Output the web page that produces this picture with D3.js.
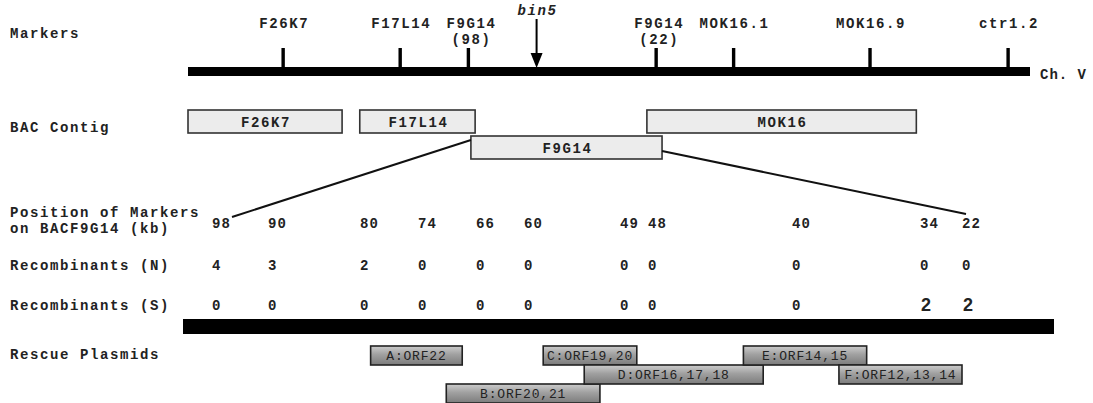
<!DOCTYPE html>
<html>
<head>
<meta charset="utf-8">
<script src="https://cdn.jsdelivr.net/npm/d3@7"></script>
<style>
  body { margin: 0; background: #fff; }
  svg { display: block; }
  .mono { font-family: "Courier New", "Liberation Mono", monospace; font-weight: bold; fill: #222; font-size: 14px; letter-spacing: 1.6px; }
</style>
</head>
<body>
<figure id="map" style="margin:0"></figure>
<script>
// chromosome V markers (map units along the drawn bar, 0-100)
const markerNames = ["F26K7", "F17L14", "F9G14", "F9G14", "MOK16.1", "MOK16.9", "ctr1.2"];
const markerSub = ["", "", "(98)", "(22)", "", "", ""];
const markerPos = [11.3, 25.2, 33.3, 55.6, 64.8, 81.0, 97.4];
const bin5Pos = 41.4;

// BAC contig
const bacNames = ["F26K7", "F17L14", "F9G14", "MOK16"];
const bacStart = [0, 20.4, 33.6, 54.5];
const bacEnd = [18.3, 34.1, 56.3, 86.5];
const bacRow = [0, 0, 1, 0];

// markers on BAC F9G14 (kb) and recombinant counts
const kbPositions = [98, 90, 80, 74, 66, 60, 49, 48, 40, 34, 22];
const recombN = [4, 3, 2, 0, 0, 0, 0, 0, 0, 0, 0];
const recombS = [0, 0, 0, 0, 0, 0, 0, 0, 0, 2, 2];

// rescue plasmids, extents in kb on F9G14
const plasmidNames = ["A:ORF22", "B:ORF20,21", "C:ORF19,20", "D:ORF16,17,18", "E:ORF14,15", "F:ORF12,13,14"];
const plasmidStart = [78.9, 70.1, 57.8, 53.1, 42.7, 37.8];
const plasmidEnd = [67.9, 51.3, 48.4, 41.6, 36.5, 22];
const plasmidRow = [0, 2, 0, 1, 0, 1];

const width = 1093, height = 403;
// column layout for the kb rows (not evenly spaced in the figure)
const colX = [212, 268, 360, 418, 476, 524, 620, 648, 792, 920, 962];

const svg = d3.select('#map')
  .append('svg')
  .attr('width', width)
  .attr('height', height);

const chrX = d3.scaleLinear().domain([0, 100]).range([188, 1030]);
const kbX = d3.scaleLinear().domain(kbPositions).range(colX);

// gradient for the plasmid boxes
const grad = svg.append('defs').append('linearGradient')
  .attr('id', 'plas').attr('x1', 0).attr('y1', 0).attr('x2', 0).attr('y2', 1);
grad.append('stop').attr('offset', '0%').attr('stop-color', '#cdcdcd');
grad.append('stop').attr('offset', '45%').attr('stop-color', '#a0a0a0');
grad.append('stop').attr('offset', '100%').attr('stop-color', '#7c7c7c');

// row labels
const rowLabels = [
  { t: ["Markers"], y: 38 },
  { t: ["BAC Contig"], y: 132 },
  { t: ["Position of Markers", "on BACF9G14 (kb)"], y: 217 },
  { t: ["Recombinants (N)"], y: 270 },
  { t: ["Recombinants (S)"], y: 310 },
  { t: ["Rescue Plasmids"], y: 359 }
];
rowLabels.forEach(r => {
  const txt = svg.append('text').attr('class', 'mono').attr('x', 10).attr('y', r.y);
  r.t.forEach((s, i) => txt.append('tspan').attr('x', 10).attr('dy', i ? 16 : 0).text(s));
});

// chromosome bar
const chrY = 67;
svg.append('rect')
  .attr('x', chrX(0)).attr('y', chrY)
  .attr('width', chrX(100) - chrX(0)).attr('height', 9)
  .attr('fill', '#000');

svg.append('text').attr('class', 'mono')
  .attr('x', chrX(100) + 10).attr('y', 79)
  .style('letter-spacing', '1px')
  .text('Ch. V');

const mk = svg.selectAll('g.marker')
  .data(markerNames.map((n, i) => ({ name: n, sub: markerSub[i], pos: markerPos[i] })))
  .enter().append('g').attr('class', 'marker');

mk.append('rect')
  .attr('x', d => chrX(d.pos) - 1.7).attr('y', 48)
  .attr('width', 3.4).attr('height', chrY - 48)
  .attr('fill', '#000');

mk.append('text').attr('class', 'mono')
  .attr('x', d => chrX(d.pos) + (d.sub ? 3 : 1)).attr('y', 28)
  .attr('text-anchor', 'middle')
  .text(d => d.name);

mk.append('text').attr('class', 'mono')
  .attr('x', d => chrX(d.pos) + 3).attr('y', 44)
  .attr('text-anchor', 'middle')
  .text(d => d.sub);

// bin5 arrow
const bx = chrX(bin5Pos);
svg.append('text').attr('class', 'mono')
  .attr('x', bx + 1).attr('y', 15)
  .attr('text-anchor', 'middle')
  .style('font-style', 'italic')
  .text('bin5');
svg.append('line')
  .attr('x1', bx).attr('x2', bx).attr('y1', 19).attr('y2', 56)
  .attr('stroke', '#000').attr('stroke-width', 2);
svg.append('path')
  .attr('d', `M${bx - 6},53 L${bx + 6},53 L${bx},${chrY + 1} Z`)
  .attr('fill', '#000');

// BAC contig boxes
const bacTop = [110, 136];
const bacH = 23;
const bac = svg.selectAll('g.bac')
  .data(bacNames.map((n, i) => ({ name: n, s: bacStart[i], e: bacEnd[i], row: bacRow[i] })))
  .enter().append('g').attr('class', 'bac');

bac.append('rect')
  .attr('x', d => chrX(d.s)).attr('y', d => bacTop[d.row])
  .attr('width', d => chrX(d.e) - chrX(d.s)).attr('height', bacH)
  .attr('fill', '#ececec').attr('stroke', '#333').attr('stroke-width', 1.6);

bac.append('text').attr('class', 'mono')
  .attr('x', d => (chrX(d.s) + chrX(d.e)) / 2 + 1).attr('y', d => bacTop[d.row] + 16.5)
  .attr('text-anchor', 'middle')
  .text(d => d.name);

// expansion lines from F9G14 to the kb row
const f9 = bacNames.indexOf('F9G14');
svg.append('line')
  .attr('x1', chrX(bacStart[f9])).attr('y1', bacTop[1] + 4)
  .attr('x2', kbX(kbPositions[0]) + 20).attr('y2', 217)
  .attr('stroke', '#111').attr('stroke-width', 2);
svg.append('line')
  .attr('x1', chrX(bacEnd[f9])).attr('y1', bacTop[1] + 15)
  .attr('x2', kbX(kbPositions[kbPositions.length - 1]) + 4).attr('y2', 214)
  .attr('stroke', '#111').attr('stroke-width', 2);

// kb positions and recombinant rows
const rows = [
  { vals: kbPositions, y: 228 },
  { vals: recombN, y: 270 },
  { vals: recombS, y: 310 }
];
rows.forEach((r, ri) => {
  svg.selectAll(null)
    .data(r.vals.map((v, i) => ({ v, kb: kbPositions[i] })))
    .enter().append('text')
    .attr('class', 'mono')
    .attr('x', d => kbX(d.kb))
    .attr('y', r.y)
    .style('letter-spacing', '1.2px')
    .each(function (d) {
      if (ri === 2 && d.v > 0) {
        d3.select(this)
          .style('font-family', '"Liberation Sans", Arial, sans-serif')
          .style('font-size', '18px')
          .attr('y', r.y + 1)
          .attr('dx', 1);
      }
    })
    .text(d => d.v);
});

// thick black bar (F9G14 region)
svg.append('rect')
  .attr('x', 183).attr('y', 319)
  .attr('width', 1054 - 183).attr('height', 15)
  .attr('fill', '#000');

// rescue plasmids
const plTop = [346, 365, 384];
const plH = 19;
const pl = svg.selectAll('g.plasmid')
  .data(plasmidNames.map((n, i) => ({ name: n, s: plasmidStart[i], e: plasmidEnd[i], row: plasmidRow[i] })))
  .enter().append('g').attr('class', 'plasmid');

pl.append('rect')
  .attr('x', d => kbX(d.s)).attr('y', d => plTop[d.row])
  .attr('width', d => kbX(d.e) - kbX(d.s)).attr('height', plH)
  .attr('fill', 'url(#plas)').attr('stroke', '#222').attr('stroke-width', 1.6);

pl.append('text')
  .attr('x', d => (kbX(d.s) + kbX(d.e)) / 2).attr('y', d => plTop[d.row] + 14)
  .attr('text-anchor', 'middle')
  .style('font-family', '"Courier New", "Liberation Mono", monospace')
  .style('font-size', '13px')
  .style('letter-spacing', '0.8px')
  .style('fill', '#222')
  .text(d => d.name);
</script>
</body>
</html>
